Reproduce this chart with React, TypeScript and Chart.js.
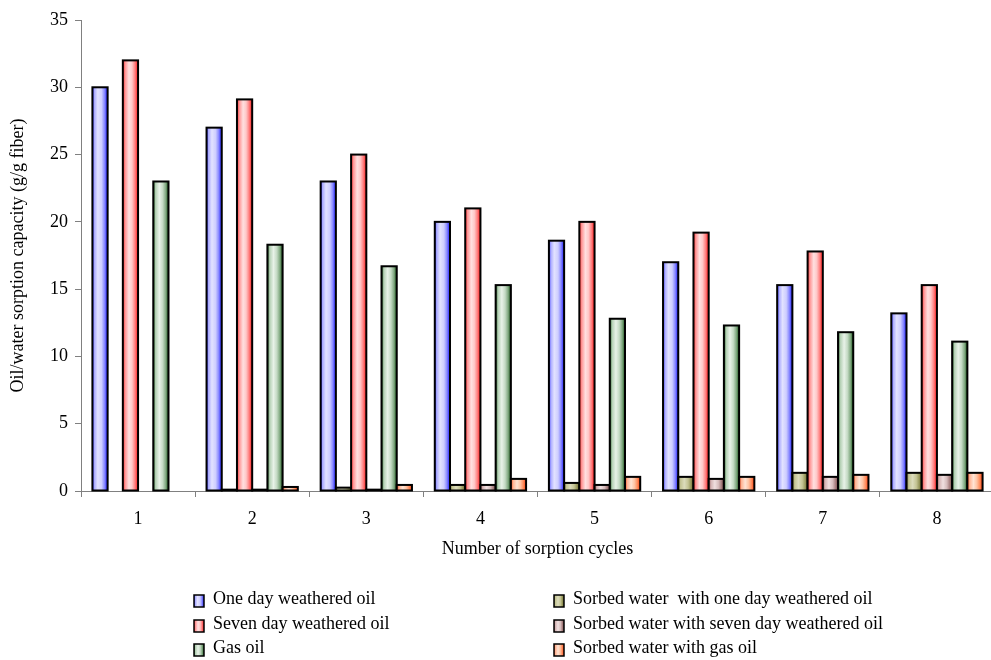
import React, { useEffect, useRef } from "react";
import { Chart, registerables } from "chart.js";
Chart.register(...registerables);

const categories = ["1", "2", "3", "4", "5", "6", "7", "8"];
const oneDayOil = [30, 27, 23, 20, 18.6, 17, 15.3, 13.2];
const sorbedWaterOneDay = [0, 0.1, 0.25, 0.45, 0.6, 1.05, 1.35, 1.35];
const sevenDayOil = [32, 29.1, 25, 21, 20, 19.2, 17.8, 15.3];
const sorbedWaterSevenDay = [0, 0.1, 0.1, 0.45, 0.45, 0.9, 1.05, 1.2];
const gasOil = [23, 18.3, 16.7, 15.3, 12.8, 12.3, 11.8, 11.1];
const sorbedWaterGasOil = [0, 0.3, 0.45, 0.9, 1.05, 1.05, 1.2, 1.35];

const seriesNames = [
  "One day weathered oil",
  "Sorbed water  with one day weathered oil",
  "Seven day weathered oil",
  "Sorbed water with seven day weathered oil",
  "Gas oil",
  "Sorbed water with gas oil",
];
const seriesValues = [oneDayOil, sorbedWaterOneDay, sevenDayOil, sorbedWaterSevenDay, gasOil, sorbedWaterGasOil];

const yMin = 0;
const yMax = 35;
const yStep = 5;

const FONT = "'Liberation Serif', 'Times New Roman', serif";
const FS = 18;

const STOPS: [number, string][][] = [
  [[0, "#1818ff"], [0.12, "#a8a8ff"], [0.35, "#e2e2ff"], [0.6, "#cdcdff"], [0.8, "#8888ff"], [1, "#1818ff"]],
  [[0, "#747438"], [0.15, "#c4c494"], [0.4, "#dcdcbc"], [0.65, "#c4c494"], [0.85, "#949458"], [1, "#646428"]],
  [[0, "#ff2828"], [0.15, "#ff9494"], [0.4, "#ffe0e0"], [0.6, "#ffc8c8"], [0.8, "#ff8080"], [1, "#ff1818"]],
  [[0, "#8c5454"], [0.15, "#d4b4b4"], [0.4, "#f0e0e0"], [0.65, "#d6bcbc"], [0.85, "#a47c7c"], [1, "#7c4c4c"]],
  [[0, "#1a561a"], [0.15, "#b4d0b4"], [0.4, "#e8f2e8"], [0.62, "#c4dac4"], [0.82, "#80a880"], [1, "#1a561a"]],
  [[0, "#ff4818"], [0.15, "#ffb494"], [0.4, "#ffe4d4"], [0.62, "#ffc4a4"], [0.82, "#ff8c5c"], [1, "#ff3c0c"]],
];

function makeGrad(ctx: CanvasRenderingContext2D, l: number, r: number, di: number) {
  const g = ctx.createLinearGradient(l, 0, r, 0);
  STOPS[di].forEach(([o, c]) => g.addColorStop(o, c));
  return g;
}

const gradBars = {
  id: "gradBars",
  afterDatasetsDraw(chart: any) {
    const ctx: CanvasRenderingContext2D = chart.ctx;
    ctx.save();
    chart.data.datasets.forEach((ds: any, di: number) => {
      const meta = chart.getDatasetMeta(di);
      meta.data.forEach((el: any, i: number) => {
        const v = ds.data[i];
        if (!v) return;
        const { x, y, base, width } = el.getProps(["x", "y", "base", "width"], true);
        const l = x - width / 2;
        const r = x + width / 2;
        ctx.fillStyle = makeGrad(ctx, l, r, di);
        ctx.fillRect(l, y, width, base - y);
        ctx.lineWidth = 2;
        ctx.strokeStyle = "#000";
        ctx.strokeRect(l, y, width, base - y);
      });
    });
    ctx.restore();
  },
};

const legendRows = [
  [0, 1],
  [2, 3],
  [4, 5],
];

const customLegend = {
  id: "customLegend",
  afterDraw(chart: any) {
    const ctx: CanvasRenderingContext2D = chart.ctx;
    ctx.save();
    ctx.font = `${FS}px ${FONT}`;
    ctx.textBaseline = "alphabetic";
    ctx.textAlign = "left";
    const colSwatch = [194, 554];
    const colText = [213, 573];
    const baselines = [604, 629, 653];
    legendRows.forEach((row, ri) => {
      row.forEach((di, ci) => {
        const sx = colSwatch[ci];
        const sy = baselines[ri] - 9;
        ctx.fillStyle = makeGrad(ctx, sx, sx + 10, di);
        ctx.fillRect(sx, sy, 10, 12);
        ctx.lineWidth = 1.5;
        ctx.strokeStyle = "#000";
        ctx.strokeRect(sx, sy, 10, 12);
        ctx.fillStyle = "#000";
        ctx.fillText(seriesNames[di], colText[ci], baselines[ri]);
      });
    });
    ctx.restore();
  },
};

export default function App() {
  const ref = useRef<HTMLCanvasElement>(null);
  useEffect(() => {
    if (!ref.current) return;
    const chart = new Chart(ref.current, {
      type: "bar",
      data: {
        labels: categories,
        datasets: seriesValues.map((vals, i) => ({
          label: seriesNames[i],
          data: vals,
          backgroundColor: "rgba(0,0,0,0)",
          borderWidth: 0,
          categoryPercentage: 0.8,
          barPercentage: 1.0,
        })),
      },
      options: {
        animation: false,
        responsive: false,
        devicePixelRatio: 1,
        layout: { padding: { left: 0, top: 20, right: 6, bottom: 97 } },
        plugins: { legend: { display: false }, tooltip: { enabled: false } },
        scales: {
          x: {
            afterFit: (s: any) => {
              s.height = 72;
            },
            grid: {
              display: true,
              drawOnChartArea: false,
              drawTicks: true,
              tickLength: 6,
              color: "#808080",
              offset: true,
            },
            border: { display: true, color: "#808080", width: 1 },
            ticks: { color: "#000", font: { family: FONT, size: FS }, padding: 11 },
            title: {
              display: true,
              text: "Number of sorption cycles",
              color: "#000",
              font: { family: FONT, size: FS },
              padding: { top: 4, bottom: 3 },
            },
          },
          y: {
            min: yMin,
            max: yMax,
            afterFit: (s: any) => {
              s.width = 81;
            },
            grid: {
              display: true,
              drawOnChartArea: false,
              drawTicks: true,
              tickLength: 6,
              color: "#808080",
            },
            border: { display: true, color: "#808080", width: 1 },
            ticks: { stepSize: yStep, color: "#000", font: { family: FONT, size: FS }, padding: 7 },
            title: {
              display: true,
              text: "Oil/water sorption capacity (g/g fiber)",
              color: "#000",
              font: { family: FONT, size: FS },
              padding: { top: 7, bottom: 4 },
            },
          },
        },
      },
      plugins: [gradBars, customLegend],
    });
    return () => chart.destroy();
  }, []);
  return (
    <div style={{ position: "fixed", left: 0, top: 0, width: 991, height: 660, overflow: "hidden", background: "#fff" }}>
      <canvas ref={ref} width={1000} height={660} style={{ display: "block", width: 1000, height: 660 }} />
    </div>
  );
}
